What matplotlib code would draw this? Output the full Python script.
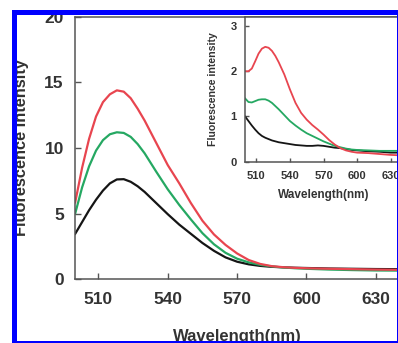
import matplotlib
matplotlib.use("Agg")
import matplotlib.pyplot as plt
from matplotlib.patches import Rectangle

plt.rcParams['font.family'] = ['Liberation Sans', 'DejaVu Sans']
plt.rcParams['font.weight'] = 'bold'
plt.rcParams['axes.labelweight'] = 'bold'

# wavelength grid (nm) shared by all curves
wl = [500, 503, 506, 509, 512, 515, 518, 521, 524, 527, 530, 535, 540, 545, 550,
      555, 560, 565, 570, 575, 580, 585, 590, 595, 600, 610, 620, 630, 640]

# main panel
main_red = [5.85, 8.5, 10.7, 12.4, 13.5, 14.1, 14.4, 14.3, 13.8, 13.0, 12.1, 10.4, 8.7, 7.3, 5.8,
            4.45, 3.4, 2.6, 1.95, 1.45, 1.15, 0.98, 0.9, 0.85, 0.82, 0.78, 0.75, 0.72, 0.7]
main_green = [5.0, 7.0, 8.6, 9.8, 10.6, 11.05, 11.2, 11.15, 10.85, 10.3, 9.6, 8.2, 6.85, 5.65, 4.55,
              3.5, 2.65, 2.0, 1.55, 1.27, 1.08, 0.96, 0.88, 0.82, 0.78, 0.72, 0.68, 0.65, 0.64]
main_black = [3.45, 4.35, 5.25, 6.05, 6.75, 7.3, 7.6, 7.62, 7.42, 7.08, 6.65, 5.8, 4.95, 4.15, 3.45,
              2.75, 2.15, 1.65, 1.32, 1.12, 1.0, 0.93, 0.89, 0.86, 0.84, 0.8, 0.78, 0.76, 0.75]

# inset panel
ins_red = [2.0, 2.0, 2.06, 2.22, 2.39, 2.5, 2.54, 2.52, 2.45, 2.34, 2.2, 1.93, 1.6, 1.3, 1.08,
           0.93, 0.81, 0.71, 0.6, 0.48, 0.38, 0.3, 0.25, 0.22, 0.2, 0.19, 0.17, 0.15, 0.14]
ins_green = [1.4, 1.32, 1.31, 1.34, 1.37, 1.38, 1.38, 1.35, 1.3, 1.23, 1.16, 1.03, 0.9, 0.8, 0.71,
             0.63, 0.57, 0.51, 0.45, 0.4, 0.35, 0.32, 0.29, 0.27, 0.26, 0.25, 0.24, 0.24, 0.24]
ins_black = [1.0, 0.9, 0.8, 0.71, 0.63, 0.57, 0.53, 0.5, 0.47, 0.45, 0.43, 0.41, 0.39, 0.37, 0.36,
             0.35, 0.35, 0.36, 0.35, 0.33, 0.31, 0.3, 0.28, 0.26, 0.25, 0.23, 0.22, 0.2, 0.2]

xticks = [510, 540, 570, 600, 630]
main_yticks = [0, 5, 10, 15, 20]
ins_yticks = [0, 1, 2, 3]

RED = '#e8454f'
GREEN = '#25a862'
BLACK = '#151515'
TXT = '#333333'
SPINE = '#555555'

W, H = 398, 343
fig = plt.figure(figsize=(W / 100, H / 100), dpi=100)

def px_axes(x0, y_top, x1, y_bot):
    return fig.add_axes([x0 / W, (H - y_bot) / H, (x1 - x0) / W, (y_bot - y_top) / H])

def style_axes(ax, fs, pad_x, pad_y, tlen):
    for s in ax.spines.values():
        s.set_color(SPINE)
        s.set_linewidth(1.1)
    ax.tick_params(direction='in', length=tlen, width=1.0, color=SPINE, labelcolor=TXT,
                   labelsize=fs, top=False, right=False)
    ax.tick_params(axis='x', pad=pad_x)
    ax.tick_params(axis='y', pad=pad_y)

# main axes
ax = px_axes(75.2, 17, 75.2 + 140 * 2.313, 279)
ax.plot(wl, main_black, color=BLACK, lw=1.6)
ax.plot(wl, main_green, color=GREEN, lw=1.6)
ax.plot(wl, main_red, color=RED, lw=1.6)
ax.set_xlim(500, 640)
ax.set_ylim(0, 20)
ax.set_xticks(xticks)
ax.set_yticks(main_yticks)
style_axes(ax, 12.5, 9.6, 8.2, 4.5)
ax.set_xlabel('Wavelength(nm)', fontsize=12, color=TXT)
ax.xaxis.set_label_coords(0.5, -0.19)
ax.set_ylabel('Fluorescence Intensity', fontsize=11.8, color=TXT)
ax.yaxis.set_label_coords(-0.144, 0.5)

# inset axes
ins = px_axes(245.1, 17, 245.1 + 140 * 1.12, 161.7)
ins.plot(wl, ins_black, color=BLACK, lw=1.3)
ins.plot(wl, ins_green, color=GREEN, lw=1.3)
ins.plot(wl, ins_red, color=RED, lw=1.3)
ins.set_xlim(500, 640)
ins.set_ylim(0, 3.2)
ins.set_xticks(xticks)
ins.set_yticks(ins_yticks)
style_axes(ins, 8, 7, 6, 3)
ins.set_xlabel('Wavelength(nm)', fontsize=8.5, color=TXT)
ins.xaxis.set_label_coords(0.5, -0.19)
ins.set_ylabel('Fluorescence intensity', fontsize=7.6, color=TXT)
ins.yaxis.set_label_coords(-0.17, 0.5)

# blue frame
frame = Rectangle((13.5 / W, (H - 342.5) / H), (398.5 - 13.5) / W, (342.5 - 11.5) / H,
                  transform=fig.transFigure, fill=False, edgecolor='#0000ff',
                  linewidth=3.6, zorder=10, clip_on=False)
fig.add_artist(frame)

fig.savefig('out.png', dpi=100)
